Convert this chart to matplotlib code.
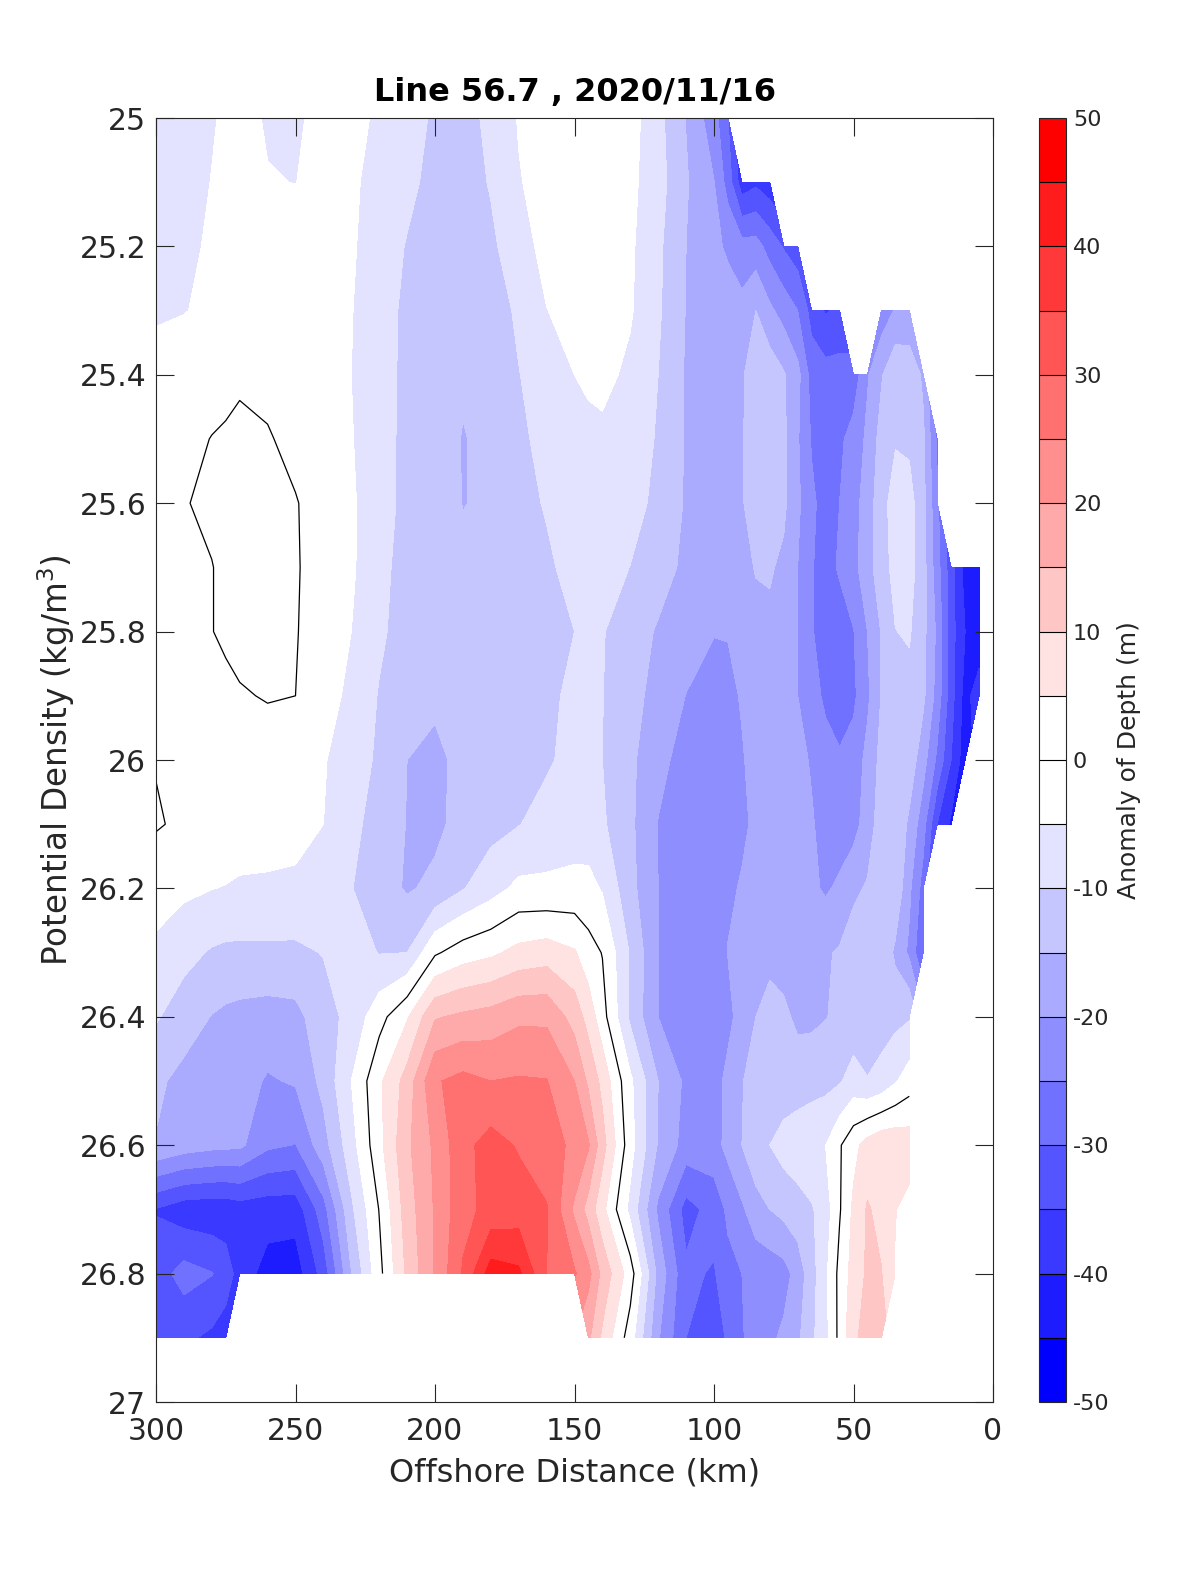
# plot.py
import numpy as np
import matplotlib
matplotlib.use("Agg")
import matplotlib.pyplot as plt
from matplotlib.colors import BoundaryNorm, ListedColormap
from matplotlib.cm import ScalarMappable

na = np.nan

# offshore distance (km), finer near the coast
dist = [300, 290, 280, 275, 270, 260, 250, 240, 230, 220, 210, 200, 190, 180, 170, 160, 150,
        145, 140, 130, 120, 110, 100,
        95, 90, 85, 80, 75, 70, 65, 60, 55, 50, 45, 40, 35, 30, 25, 20, 15, 10, 5]

density = [25.0, 25.1, 25.2, 25.3, 25.4, 25.5, 25.6, 25.7, 25.8, 25.9,
           26.0, 26.1, 26.2, 26.3, 26.4, 26.5, 26.6, 26.7, 26.8, 26.9]

# depth anomaly (m) per density surface
r250 = [-7, -7, -5.3, -4.5, -4, -5.3, -5.5, -4, -3.5, -5.8, -8, -10.7, -12, -8.7, -4.7, -3, -2.5,
        -2.5, -2.5, -3, -8.5, -15.2, -23,
        -30, na, na, na, na, na, na, na, na, na, na, na, na, na, na, na, na, na, na]
r251 = [-7, -6.5, -4.9, -4.3, -4, -4.85, -5.05, -4, -4.2, -6.7, -8.8, -11.5, -12.5, -9.6, -5.3, -3.2, -2.7,
        -2.7, -2.7, -3.8, -8, -14.5, -19.9,
        -27, -38, -36, -38, na, na, na, na, na, na, na, na, na, na, na, na, na, na, na]
r252 = [-6.5, -5.5, -4.7, -4.2, -4, -3.5, -3.5, -3.5, -4.4, -7.5, -10.3, -12, -12.5, -11, -7, -3.5, -3,
        -3, -2.8, -4.2, -9, -15, -18.5,
        -21, -23, -23, -27, -30.5, -33, na, na, na, na, na, na, na, na, na, na, na, na, na]
r253 = [-5.5, -5.1, -4.5, -4, -3.5, -3, -3, -3, -4.8, -8, -11, -13, -13.5, -13, -9, -5.1, -3.5,
        -3.5, -3.5, -4.5, -9.3, -15.2, -17,
        -17, -18.5, -15, -19, -22, -25, -32, -35.5, -34, na, na, -23, -19.5, -19.8, na, na, na, na, na]
r254 = [-3.5, -3.5, -3, -2.5, -0.8, -1, -2, -3, -5, -8.3, -11, -13, -14.5, -13.5, -10.2, -7, -5,
        -4.2, -3.7, -6, -10, -15.5, -17,
        -16.5, -15.5, -12.5, -12, -14.5, -18.5, -27, -28, -28, -28, -20.5, -15.5, -11, -11, -16, na, na, na, na]
r255 = [-3, -2, 0.2, 1, 1.2, 0.3, -1, -2.5, -4.7, -8.5, -11, -13, -15.2, -14, -11, -8.5, -6.7,
        -6.2, -6, -7.2, -10.5, -15.5, -17,
        -17, -15.5, -12, -10.5, -14, -19.5, -25.5, -27.5, -26, -23, -19, -13, -10.5, -11, -14, -26, na, na, na]
r256 = [-1.7, -0.2, 0.7, 1, 1.5, 1.2, 0.2, -1.5, -4.2, -8.5, -11, -13, -15.1, -14.5, -12, -9.5, -7,
        -7, -7, -8, -11.3, -15.5, -17,
        -17, -15.5, -12, -11, -14, -19, -24, -27, -25, -22, -17.5, -12, -7.5, -8, -13.5, -24, na, na, na]
r257 = [-1, -0.5, -0.1, 0.7, 1.5, 1.5, 0.3, -1.5, -4.3, -8.5, -12, -13, -14.3, -14, -13, -11, -8,
        -7.5, -7.5, -10.1, -13, -16, -17,
        -17, -16, -14.8, -14.5, -16, -20, -24.5, -28, -24, -21.5, -17, -12, -8.5, -8, -13, -23, -33, -42, -44]
r258 = [-1.5, -1, -0.1, 0.7, 1.5, 1.5, 0.2, -1.7, -5, -9.2, -12, -13.5, -14, -14, -13.5, -12, -10,
        -7.5, -9.7, -12.7, -15.5, -18, -19.7,
        -19.7, -17.5, -16, -16, -17, -20, -24.5, -28, -29, -25.2, -20, -14.7, -10.1, -9.5, -13.5, -21, -33, -40, -44]
r259 = [-2, -2, -1.7, -1, -0.4, 0.3, 0, -2.3, -6.5, -10.3, -12.5, -14, -14, -14, -13, -11.5, -8.5,
        -7.7, -9.9, -13, -17, -20.1, -23,
        -21.5, -19.5, -17, -16, -17, -20, -23, -26, -29, -26, -21, -14.7, -12.5, -11.5, -14, -22, -33, -42, -37]
r260 = [-0.2, -1.5, -2, -2, -2, -2.3, -3, -4.7, -7, -11, -15, -16.3, -13.5, -13, -13, -10.7, -8.3,
        -7.8, -10, -14, -18.5, -22, -23,
        -22, -20.5, -18, -16.5, -17, -18.5, -20.5, -23, -24, -23, -18.5, -13.5, -12, -12, -18, -26, -35, -43, na]
r261 = [0.4, -0.8, -2, -2.1, -2.3, -3, -3.3, -5, -8.7, -12, -15.2, -16, -13.5, -11.7, -10.2, -8, -7.5,
        -7.5, -9.3, -14, -20.2, -23, -23.5,
        -23, -21, -19, -17, -17, -17.5, -19.5, -22, -23, -22, -17.5, -12.5, -11, -16, -23, -35, -41, na, na]
r262 = [-3, -4, -4.9, -5.2, -5.7, -5.7, -6, -7, -9.8, -13, -15.5, -14, -10.3, -7, -3.8, -4, -3.5,
        -3.6, -5.4, -13.5, -20, -23, -23.5,
        -21, -19.5, -18, -17.5, -17, -17.5, -19, -20.7, -19, -16, -14.5, -11.5, -11, -19, -27, na, na, na, na]
r263 = [-6, -8.5, -10.5, -11, -11, -11, -11, -9.8, -8, -10.2, -10, -0.7, 2.5, 4, 6.5, 7.5, 5.5,
        2, -0.2, -10.5, -20, -23, -23,
        -19.8, -18, -17, -16.5, -17, -17, -16.5, -15.5, -14.5, -12.5, -11.5, -11, -16, -21, -30, na, na, na, na]
r264 = [-9.5, -12.5, -15.2, -16, -16.5, -17, -16.5, -12, -8.5, -1.8, 4.5, 14.5, 16, 17, 19, 19, 13,
        8, 2, -11, -20, -24, -24,
        -22, -17, -15, -13, -14, -16, -16, -15.2, -14, -13, -12.5, -12, -11.5, -10.5, na, na, na, na, na]
r265 = [-14, -16.5, -17.5, -17.7, -18, -20.5, -19.5, -13.5, -5, 4, 12, 24.5, 26.5, 25, 25.5, 25.2, 20,
        14, 8.5, -4, -15, -21, -23,
        -18, -15.2, -13.5, -13, -13, -12.5, -12, -11.5, -10.5, -8, -9.8, -8.5, -5.5, -2.5, na, na, na, na, na]
r266 = [-15.3, -17.4, -18.5, -18.8, -19, -24, -25.2, -17, -7, 3.5, 14, 21, 28.5, 32, 29.5, 26, 24.5,
        20.5, 12, -3, -15.5, -22, -22,
        -18.5, -15, -11.5, -10, -8, -7, -6, -5, -0.5, 3.5, 7, 9, 9, 8, na, na, na, na, na]
r267 = [-35.3, -38, -38.5, -38.5, -37.5, -38, -38, -27, -11, 0.2, 12.5, 20.5, 28.5, 31.5, 32.4, 30.5, 19,
        13, 6.5, -6.5, -21, -32, -28,
        -24, -20.8, -17, -15, -13.5, -12, -10.5, -7.5, -0.5, 6, 10.5, 8.5, 5.2, 3, na, na, na, na, na]
r268 = [-32.5, -28, -29.8, -32, -37.5, -41.8, -42.5, -33, -15.2, -1.5, 11, 20.5, 30.5, 42.5, 41, 30, 25.5,
        21.5, 13.5, 2.5, -16.5, -29, -30.5,
        -26.5, -25, -23.5, -23, -22, -18, -12, -6, 1.5, 7, 10.8, 10.2, 4.5, na, na, na, na, na, na]
r269 = [-31, -34, -36, -38, na, na, na, na, na, na, na, na, na, na, na, na, na,
        16, 9, -2.5, -19.5, -30, -33.5,
        -29, -25.5, -22.5, -21, -19, -16, -11, -6.5, 1.5, 9, 12, 12.5, na, na, na, na, na, na, na]

levels = list(range(-50, 55, 5))
cbar_ticks = list(range(-50, 60, 10))
x_ticks = [300, 250, 200, 150, 100, 50, 0]
y_ticks = [25, 25.2, 25.4, 25.6, 25.8, 26, 26.2, 26.4, 26.6, 26.8, 27]
y_labels = ["25", "25.2", "25.4", "25.6", "25.8", "26", "26.2", "26.4", "26.6", "26.8", "27"]

DARK = "#262626"


def blue_white_red():
    # 9 steps blue to white, two white bins round zero, 9 steps white to red
    cols = [(k / 9, k / 9, 1.0) for k in range(10)]
    cols += [(1.0, k / 9, k / 9) for k in range(9, -1, -1)]
    return ListedColormap(cols)


def main():
    z = np.array([r250, r251, r252, r253, r254, r255, r256, r257, r258, r259,
                  r260, r261, r262, r263, r264, r265, r266, r267, r268, r269], dtype=float)
    cmap = blue_white_red()
    norm = BoundaryNorm(levels, cmap.N)

    plt.rcParams["font.family"] = "DejaVu Sans"
    plt.rcParams["mathtext.default"] = "regular"
    plt.rcParams["axes.unicode_minus"] = False

    fig = plt.figure(figsize=(12, 15.75), dpi=100)
    ax = fig.add_axes([156 / 1200, 173 / 1575, 837 / 1200, 1284 / 1575])

    ax.contourf(dist, density, z, levels=levels, cmap=cmap, norm=norm)
    ax.contour(dist, density, z, levels=[0], colors="k", linewidths=0.9)

    ax.set_xlim(300, 0)
    ax.set_ylim(27, 25)
    ax.set_xticks(x_ticks)
    ax.set_yticks(y_ticks)
    ax.set_yticklabels(y_labels)
    ax.tick_params(direction="in", length=13, width=0.8, top=True, right=True,
                   labelsize=21.5, colors=DARK)
    ax.tick_params(axis="x", pad=11)
    ax.tick_params(axis="y", pad=7)
    for sp in ax.spines.values():
        sp.set_linewidth(0.8)
        sp.set_color(DARK)

    ax.set_xlabel("Offshore Distance (km)", fontsize=23, color=DARK, labelpad=8)
    ax.set_ylabel("Potential Density (kg/m$^3$)", fontsize=23.5, color=DARK, labelpad=2)
    ax.set_title("Line 56.7 , 2020/11/16", fontsize=23, fontweight="bold", pad=12)

    cax = fig.add_axes([1039 / 1200, 173 / 1575, 27 / 1200, 1284 / 1575])
    cb = fig.colorbar(ScalarMappable(norm=norm, cmap=cmap), cax=cax, drawedges=True,
                      ticks=cbar_ticks, spacing="proportional")
    cb.dividers.set_color("k")
    cb.dividers.set_linewidth(0.8)
    cb.outline.set_linewidth(0.8)
    cb.outline.set_edgecolor(DARK)
    cb.ax.tick_params(length=0, labelsize=16, colors=DARK, pad=5)
    cb.ax.minorticks_off()
    cb.set_label("Anomaly of Depth (m)", fontsize=18, color=DARK, labelpad=5)

    fig.savefig("out.png", dpi=100)
    plt.close(fig)


if __name__ == "__main__":
    main()
